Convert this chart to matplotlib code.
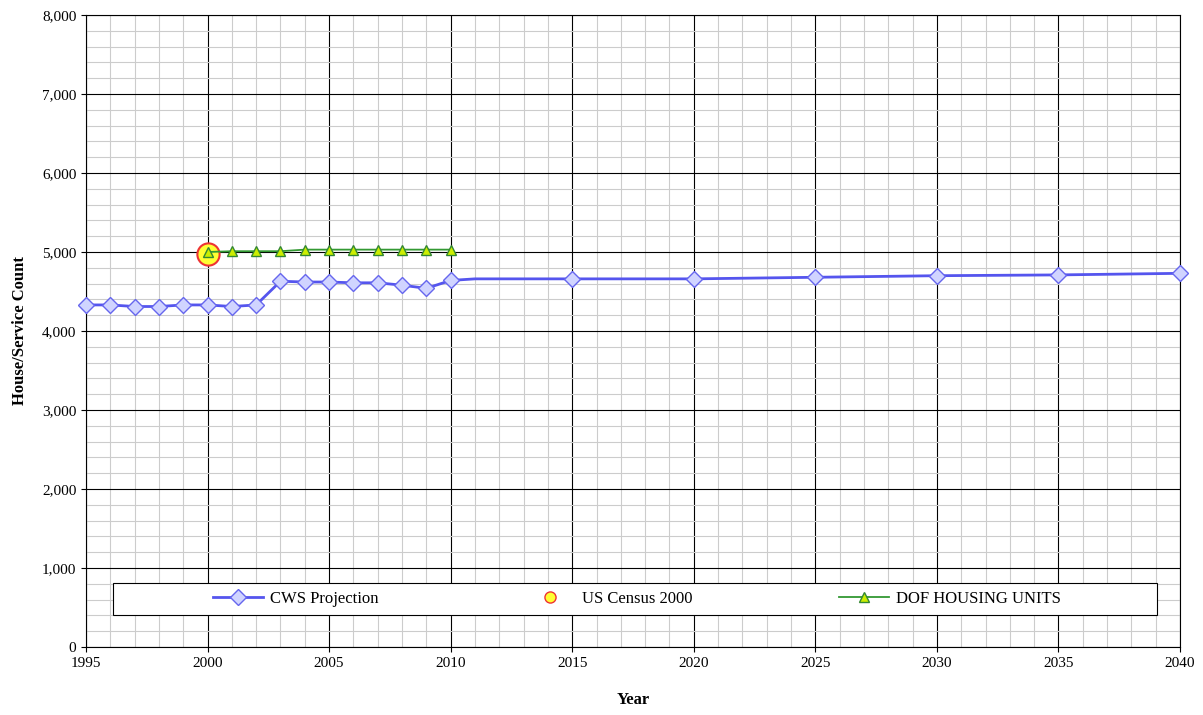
import matplotlib.pyplot as plt
import matplotlib.lines as mlines
import matplotlib.patches as mpatches
from matplotlib.ticker import MultipleLocator, FuncFormatter

cws_years = [1995, 1996, 1997, 1998, 1999, 2000, 2001, 2002, 2003, 2004, 2005,
             2006, 2007, 2008, 2009, 2010, 2011, 2015, 2020, 2025, 2030, 2035, 2040]
cws_count = [4330, 4330, 4310, 4310, 4330, 4330, 4310, 4330, 4630, 4620, 4620,
             4610, 4610, 4580, 4540, 4640, 4660, 4660, 4660, 4680, 4700, 4710, 4730]
cws_marker_years = [y for y in cws_years if y != 2011]

census_year = [2000]
census_count = [4980]

dof_years = [2000, 2001, 2002, 2003, 2004, 2005, 2006, 2007, 2008, 2009, 2010]
dof_count = [5000, 5010, 5010, 5010, 5030, 5030, 5030, 5030, 5030, 5030, 5030]

plt.rcParams['font.family'] = ['Liberation Serif', 'DejaVu Serif']
fig = plt.figure(figsize=(12.03, 7.15), dpi=100)
ax = fig.add_axes([86 / 1203, 68 / 715, 1094 / 1203, 632 / 715])

ax.plot(cws_years, cws_count, color='#5555ee', lw=2, zorder=3, clip_on=False)
mk = [cws_years.index(y) for y in cws_marker_years]
ax.plot(cws_years, cws_count, ls='none', marker='D', ms=8, mfc='#d0d4ff',
        mec='#6666ee', mew=1, markevery=mk, zorder=4, clip_on=False)
ax.plot(census_year, census_count, ls='none', marker='o', ms=16, mfc='#ffff33',
        mec='#ee3333', mew=1.5, zorder=5)
ax.plot(dof_years, dof_count, color='#339933', lw=1.3, marker='^', ms=7,
        mfc='#ccee00', mec='#338833', zorder=6)

ax.set_xlim(1995, 2040)
ax.set_ylim(0, 8000)
ax.xaxis.set_major_locator(MultipleLocator(5))
ax.xaxis.set_minor_locator(MultipleLocator(1))
ax.yaxis.set_major_locator(MultipleLocator(1000))
ax.yaxis.set_minor_locator(MultipleLocator(200))
ax.yaxis.set_major_formatter(FuncFormatter(lambda v, p: f'{int(v):,}'))
ax.grid(which='major', color='black', lw=0.8)
ax.grid(which='minor', color='#cccccc', lw=0.8)
ax.set_axisbelow(True)
ax.tick_params(labelsize=11)
ax.tick_params(which='minor', length=0)
for s in ax.spines.values():
    s.set_color('black')
ax.set_xlabel('Year', fontsize=12, fontweight='bold', labelpad=16)
ax.set_ylabel('House/Service Count', fontsize=12, fontweight='bold', labelpad=10)

# legend box inside the axes
box = mpatches.Rectangle((27 / 1094, 32 / 632), 1044 / 1094, 32 / 632,
                         transform=ax.transAxes, fc='white', ec='black',
                         lw=0.8, zorder=7)
ax.add_patch(box)
h1 = mlines.Line2D([], [], color='#5555ee', lw=2, marker='D', ms=8,
                   mfc='#d0d4ff', mec='#6666ee')
h2 = mlines.Line2D([], [], ls='none', marker='o', ms=8, mfc='#ffff33', mec='#ee3333')
h3 = mlines.Line2D([], [], color='#339933', lw=1.3, marker='^', ms=7,
                   mfc='#ccee00', mec='#338833')
leg = ax.legend([h1, h2, h3], ['CWS Projection', 'US Census 2000', 'DOF HOUSING UNITS'],
                ncol=3, loc='center', bbox_to_anchor=(551 / 1094, 48 / 632),
                frameon=False, fontsize=12, handlelength=3, columnspacing=8.8,
                handletextpad=0.4)
leg.set_zorder(8)

fig.savefig('out.png', dpi=100)
